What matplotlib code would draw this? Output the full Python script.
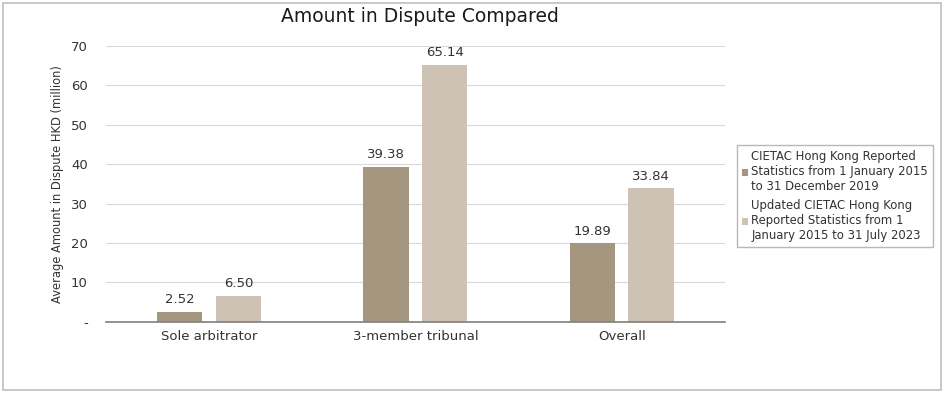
import numpy as np
import matplotlib.pyplot as plt
from matplotlib.patches import Rectangle

categories = ["Sole arbitrator", "3-member tribunal", "Overall"]
series_2019 = [2.52, 39.38, 19.89]
series_2023 = [6.50, 65.14, 33.84]
labels = ["CIETAC Hong Kong Reported\nStatistics from 1 January 2015\nto 31 December 2019",
          "Updated CIETAC Hong Kong\nReported Statistics from 1\nJanuary 2015 to 31 July 2023"]
yticks = [0, 10, 20, 30, 40, 50, 60, 70]
ytick_labels = ["-", "10", "20", "30", "40", "50", "60", "70"]

C_DARK = "#A59680"
C_LIGHT = "#CDC2B4"
TXT = "#333333"

plt.rcParams["font.family"] = ["DejaVu Sans"]

fig = plt.figure(figsize=(9.44, 3.93), dpi=100)
fig.patches.append(Rectangle((0.003, 0.008), 0.994, 0.984, transform=fig.transFigure,
                             fill=False, edgecolor="#BFBFBF", linewidth=1.2))
ax = fig.add_axes([0.112, 0.181, 0.656, 0.702])

x = np.arange(len(categories))
w = 0.22
gap = 0.065
off = (w + gap) / 2
b1 = ax.bar(x - off, series_2019, w, color=C_DARK, label=labels[0])
b2 = ax.bar(x + off, series_2023, w, color=C_LIGHT, label=labels[1])
for bars, vals in ((b1, series_2019), (b2, series_2023)):
    for r, v in zip(bars, vals):
        ax.text(r.get_x() + r.get_width() / 2, v + 1.5, f"{v:.2f}", ha="center", va="bottom",
                fontsize=9.5, color=TXT)

ax.set_xlim(-0.5, 2.5)
ax.set_ylim(0, 70)
ax.set_yticks(yticks)
ax.set_yticklabels(ytick_labels)
ax.set_xticks(x)
ax.set_xticklabels(categories)
ax.tick_params(axis="both", length=0, labelsize=9.5, colors=TXT)
ax.tick_params(axis="y", pad=13)
ax.tick_params(axis="x", pad=6)
ax.grid(axis="y", color="#D9D9D9", linewidth=0.8)
ax.set_axisbelow(True)
for s in ("top", "right", "left"):
    ax.spines[s].set_visible(False)
ax.spines["bottom"].set_color("#7F7F7F")
ax.spines["bottom"].set_linewidth(1.2)
ax.set_ylabel("Average Amount in Dispute HKD (million)", fontsize=8.3, color=TXT, labelpad=5)

fig.text(0.445, 0.958, "Amount in Dispute Compared", ha="center", va="center",
         fontsize=13.5, color="#1a1a1a")

leg = fig.legend(handles=[b1, b2], loc="upper left", bbox_to_anchor=(0.775, 0.645),
                 fontsize=8.4, frameon=True, fancybox=False, handlelength=0.5,
                 handleheight=0.5, handletextpad=0.3, labelspacing=0.5, borderpad=0.4)
leg.get_frame().set_edgecolor("#A6A6A6")
leg.get_frame().set_linewidth(1.0)
for t in leg.get_texts():
    t.set_color(TXT)

fig.savefig("out.png", dpi=100)
